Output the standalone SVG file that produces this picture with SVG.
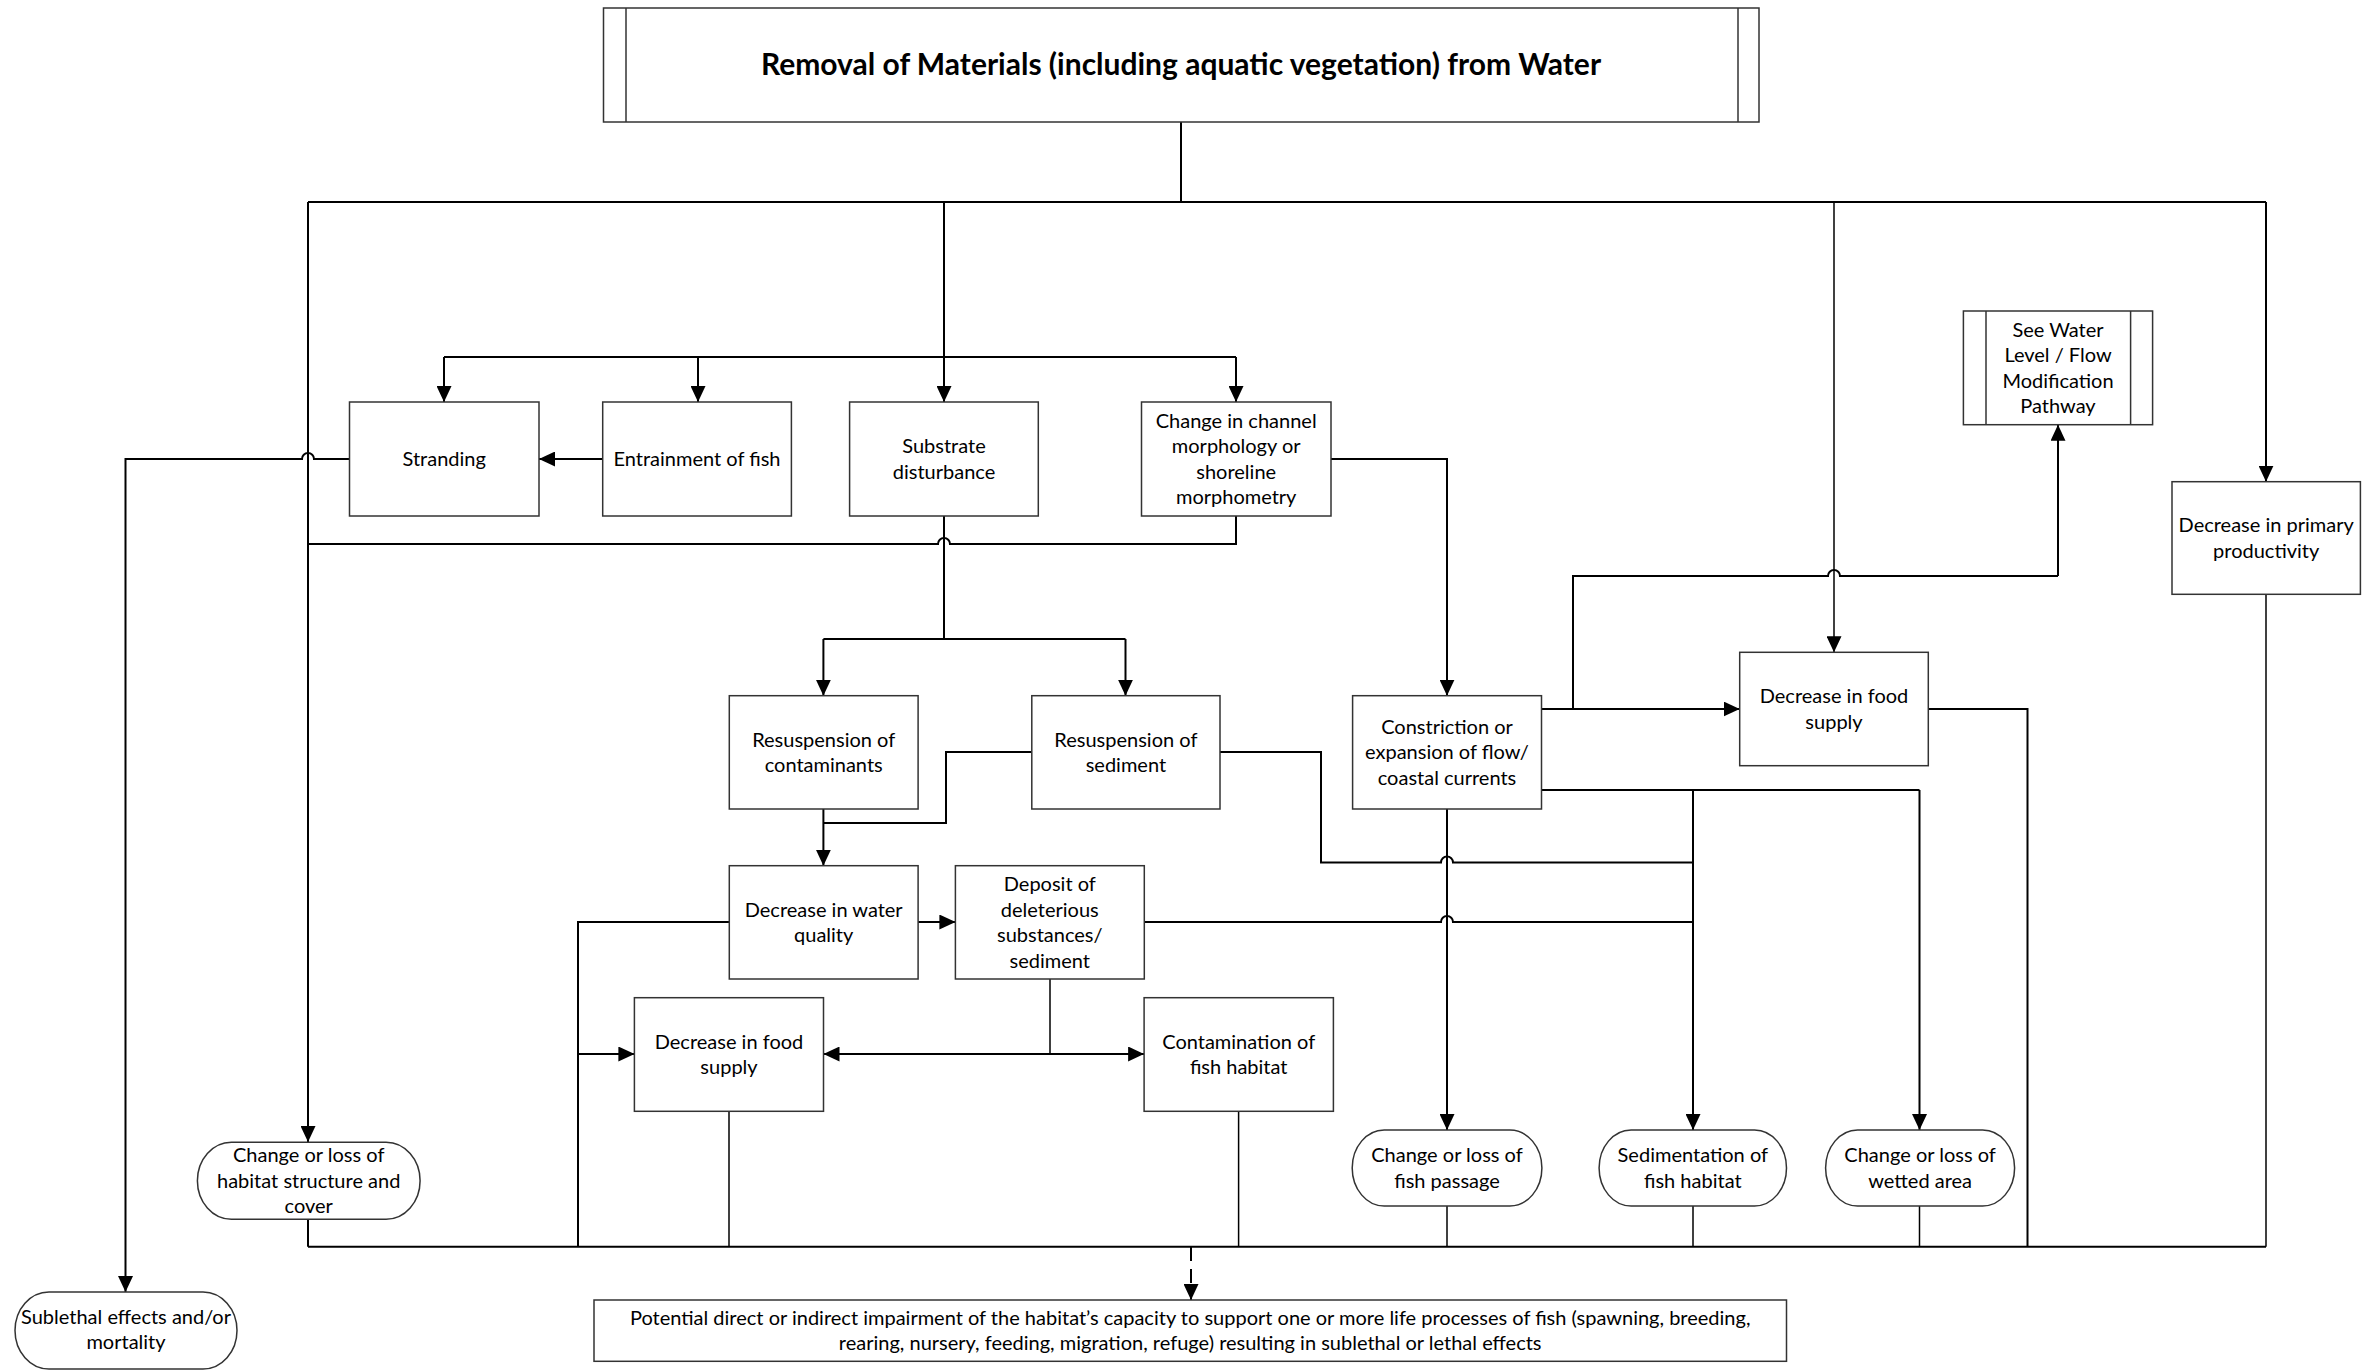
<svg xmlns="http://www.w3.org/2000/svg" width="2379" height="1372" viewBox="0 0 2379 1372">
  <style>
    .box { fill: #fff; stroke: #333; stroke-width: 1.5; }
    .term { fill: #fff; stroke: #333; stroke-width: 1.5; }
    .t { font-family: Lato, "Open Sans", "Liberation Sans", sans-serif; font-size: 20px; text-anchor: middle; fill: #000; }
    .title { font-family: Lato, "Open Sans", "Liberation Sans", sans-serif; font-size: 30px; font-weight: bold; text-anchor: middle; fill: #000; }
    .c { fill: none; stroke: #000; stroke-width: 2; }
    .cthin { fill: none; stroke: #000; stroke-width: 1.5; }
    .arr { marker-end: url(#ah); }
    .dash { stroke-dasharray: 14 8; }
  </style>
  <defs>
    <marker id="ah" markerUnits="userSpaceOnUse" markerWidth="16" markerHeight="15" refX="16" refY="7.5" orient="auto-start-reverse">
      <path d="M0,0 L16,7.5 L0,15 Z" fill="#000"/>
    </marker>
  </defs>
  <rect width="2379" height="1372" fill="#fff"/>

  <!-- connectors -->
  <g id="connectors">
    <path class="c" d="M1181,122 V202"/>
    <path class="c" d="M308,202 H2266"/>
    <path class="c arr" d="M308,202 V1142"/>
    <path class="c arr" d="M944,202 V402"/>
    <path class="c" d="M444,357 H1236"/>
    <path class="c arr" d="M444,357 V402"/>
    <path class="c arr" d="M698,357 V402"/>
    <path class="c arr" d="M1236,357 V402"/>
    <path class="c arr" d="M602.7,459 H539"/>
    <path class="c arr" d="M349.5,459 H314 a6,6 0 0 0 -12,0 H125.5 V1292"/>
    <path class="c arr" d="M1331,459 H1447 V695.7"/>
    <path class="c" d="M1236,516 V544 H950 a6,6 0 0 0 -12,0 H308"/>
    <path class="c" d="M944,516 V639"/>
    <path class="c" d="M823.4,639 H1125.5"/>
    <path class="c arr" d="M823.4,639 V695.7"/>
    <path class="c arr" d="M1125.5,639 V695.7"/>
    <path class="c" d="M1031.8,752 H946 V823 H823.4"/>
    <path class="c arr" d="M823.4,809 V865.7"/>
    <path class="c" d="M1220,752 H1321 V862.5 H1441 a6,6 0 0 1 12,0 H1693"/>
    <path class="c arr" d="M918.1,922 H955.4"/>
    <path class="c" d="M729.3,922 H578 V1246.7"/>
    <path class="c arr" d="M578,1054 H634.4"/>
    <path class="c" d="M1144.3,922 H1441 a6,6 0 0 1 12,0 H1693"/>
    <path class="cthin" d="M1050,979 V1054"/>
    <path class="c arr" d="M1050,1054 H823.5"/>
    <path class="c arr" d="M1050,1054 H1144.1"/>
    <path class="cthin" d="M729,1111.3 V1246.7"/>
    <path class="cthin" d="M1238.6,1111.3 V1246.7"/>
    <path class="c" d="M308,1219.3 V1246.7"/>
    <path class="c" d="M308,1246.7 H2266"/>
    <path class="c dash arr" d="M1191,1247 V1300"/>
    <path class="c arr" d="M1447,809 V1130"/>
    <path class="cthin" d="M1447,1206 V1246.7"/>
    <path class="c arr" d="M1541.5,709 H1739.7"/>
    <path class="c" d="M1573,709 V576 H1828 a6,6 0 0 1 12,0 H2058"/>
    <path class="c arr" d="M2058,576 V424.7"/>
    <path class="cthin arr" d="M1834,202 V652.3"/>
    <path class="c" d="M1928.3,709 H2027.5 V1246.7"/>
    <path class="c" d="M1541.5,790 H1919.5"/>
    <path class="c arr" d="M1919.5,790 V1130"/>
    <path class="c arr" d="M1693,790 V1130"/>
    <path class="cthin" d="M1693,1206 V1246.7"/>
    <path class="cthin" d="M1919.5,1206 V1246.7"/>
    <path class="c arr" d="M2266,202 V481.7"/>
    <path class="cthin" d="M2266,594.3 V1246.7"/>
  </g>

  <!-- nodes -->
  <g id="n-title">
    <rect class="box" x="603.5" y="8" width="1155.5" height="114"/>
    <line class="box" x1="626" y1="8" x2="626" y2="122"/>
    <line class="box" x1="1738" y1="8" x2="1738" y2="122"/>
    <text class="title" x="1181" y="75">Removal of Materials (including aquatic vegetation) from Water</text>
  </g>
  <g id="n-stranding">
    <rect class="box" x="349.5" y="402" width="189.5" height="114"/>
    <text class="t" x="444.2" y="466">Stranding</text>
  </g>
  <g id="n-entrainment">
    <rect class="box" x="602.7" y="402" width="188.7" height="114"/>
    <text class="t" x="697" y="466">Entrainment of fish</text>
  </g>
  <g id="n-substrate">
    <rect class="box" x="849.6" y="402" width="188.7" height="114"/>
    <text class="t" x="944" y="453">Substrate</text>
    <text class="t" x="944" y="479">disturbance</text>
  </g>
  <g id="n-channel">
    <rect class="box" x="1141.5" y="402" width="189.5" height="114"/>
    <text class="t" x="1236.2" y="428">Change in channel</text>
    <text class="t" x="1236.2" y="453">morphology or</text>
    <text class="t" x="1236.2" y="479">shoreline</text>
    <text class="t" x="1236.2" y="504">morphometry</text>
  </g>
  <g id="n-waterlevel">
    <rect class="box" x="1963.4" y="311" width="189.2" height="113.7"/>
    <line class="box" x1="1986" y1="311" x2="1986" y2="424.7"/>
    <line class="box" x1="2130.6" y1="311" x2="2130.6" y2="424.7"/>
    <text class="t" x="2058" y="337">See Water</text>
    <text class="t" x="2058" y="362">Level / Flow</text>
    <text class="t" x="2058" y="388">Modification</text>
    <text class="t" x="2058" y="413">Pathway</text>
  </g>
  <g id="n-primary">
    <rect class="box" x="2172" y="481.7" width="188.4" height="112.6"/>
    <text class="t" x="2266.2" y="532">Decrease in primary</text>
    <text class="t" x="2266.2" y="558">productivity</text>
  </g>
  <g id="n-resus-contam">
    <rect class="box" x="729.3" y="695.7" width="188.8" height="113.3"/>
    <text class="t" x="823.7" y="747">Resuspension of</text>
    <text class="t" x="823.7" y="772">contaminants</text>
  </g>
  <g id="n-resus-sed">
    <rect class="box" x="1031.8" y="695.7" width="188.2" height="113.3"/>
    <text class="t" x="1125.9" y="747">Resuspension of</text>
    <text class="t" x="1125.9" y="772">sediment</text>
  </g>
  <g id="n-constriction">
    <rect class="box" x="1352.6" y="695.7" width="188.9" height="113.3"/>
    <text class="t" x="1447" y="734">Constriction or</text>
    <text class="t" x="1447" y="759">expansion of flow/</text>
    <text class="t" x="1447" y="785">coastal currents</text>
  </g>
  <g id="n-food-right">
    <rect class="box" x="1739.7" y="652.3" width="188.6" height="113.4"/>
    <text class="t" x="1834" y="703">Decrease in food</text>
    <text class="t" x="1834" y="729">supply</text>
  </g>
  <g id="n-water-quality">
    <rect class="box" x="729.3" y="865.7" width="188.8" height="113.3"/>
    <text class="t" x="823.7" y="917">Decrease in water</text>
    <text class="t" x="823.7" y="942">quality</text>
  </g>
  <g id="n-deposit">
    <rect class="box" x="955.4" y="865.7" width="188.9" height="113.3"/>
    <text class="t" x="1049.8" y="891">Deposit of</text>
    <text class="t" x="1049.8" y="917">deleterious</text>
    <text class="t" x="1049.8" y="942">substances/</text>
    <text class="t" x="1049.8" y="968">sediment</text>
  </g>
  <g id="n-food-left">
    <rect class="box" x="634.4" y="997.7" width="189.1" height="113.6"/>
    <text class="t" x="729" y="1049">Decrease in food</text>
    <text class="t" x="729" y="1074">supply</text>
  </g>
  <g id="n-contamination">
    <rect class="box" x="1144.1" y="997.7" width="189.3" height="113.6"/>
    <text class="t" x="1238.7" y="1049">Contamination of</text>
    <text class="t" x="1238.7" y="1074">fish habitat</text>
  </g>
  <g id="n-habitat-structure">
    <rect class="term" x="197.4" y="1142.3" width="222.7" height="77" rx="34" ry="38.5"/>
    <text class="t" x="308.7" y="1162">Change or loss of</text>
    <text class="t" x="308.7" y="1188">habitat structure and</text>
    <text class="t" x="308.7" y="1213">cover</text>
  </g>
  <g id="n-fish-passage">
    <rect class="term" x="1352.2" y="1130" width="189.7" height="76" rx="32" ry="38"/>
    <text class="t" x="1447" y="1162">Change or loss of</text>
    <text class="t" x="1447" y="1188">fish passage</text>
  </g>
  <g id="n-sedimentation">
    <rect class="term" x="1599.1" y="1130" width="187.4" height="76" rx="32" ry="38"/>
    <text class="t" x="1692.8" y="1162">Sedimentation of</text>
    <text class="t" x="1692.8" y="1188">fish habitat</text>
  </g>
  <g id="n-wetted">
    <rect class="term" x="1825.6" y="1130" width="189" height="76" rx="32" ry="38"/>
    <text class="t" x="1920.1" y="1162">Change or loss of</text>
    <text class="t" x="1920.1" y="1188">wetted area</text>
  </g>
  <g id="n-sublethal">
    <rect class="term" x="15" y="1292" width="222" height="77" rx="34" ry="38.5"/>
    <text class="t" x="126" y="1324">Sublethal effects and/or</text>
    <text class="t" x="126" y="1349">mortality</text>
  </g>
  <g id="n-impairment">
    <rect class="box" x="594" y="1300" width="1192.5" height="61.3"/>
    <text class="t" x="1190.2" y="1325">Potential direct or indirect impairment of the habitat’s capacity to support one or more life processes of fish (spawning, breeding,</text>
    <text class="t" x="1190.2" y="1350">rearing, nursery, feeding, migration, refuge) resulting in sublethal or lethal effects</text>
  </g>
</svg>
